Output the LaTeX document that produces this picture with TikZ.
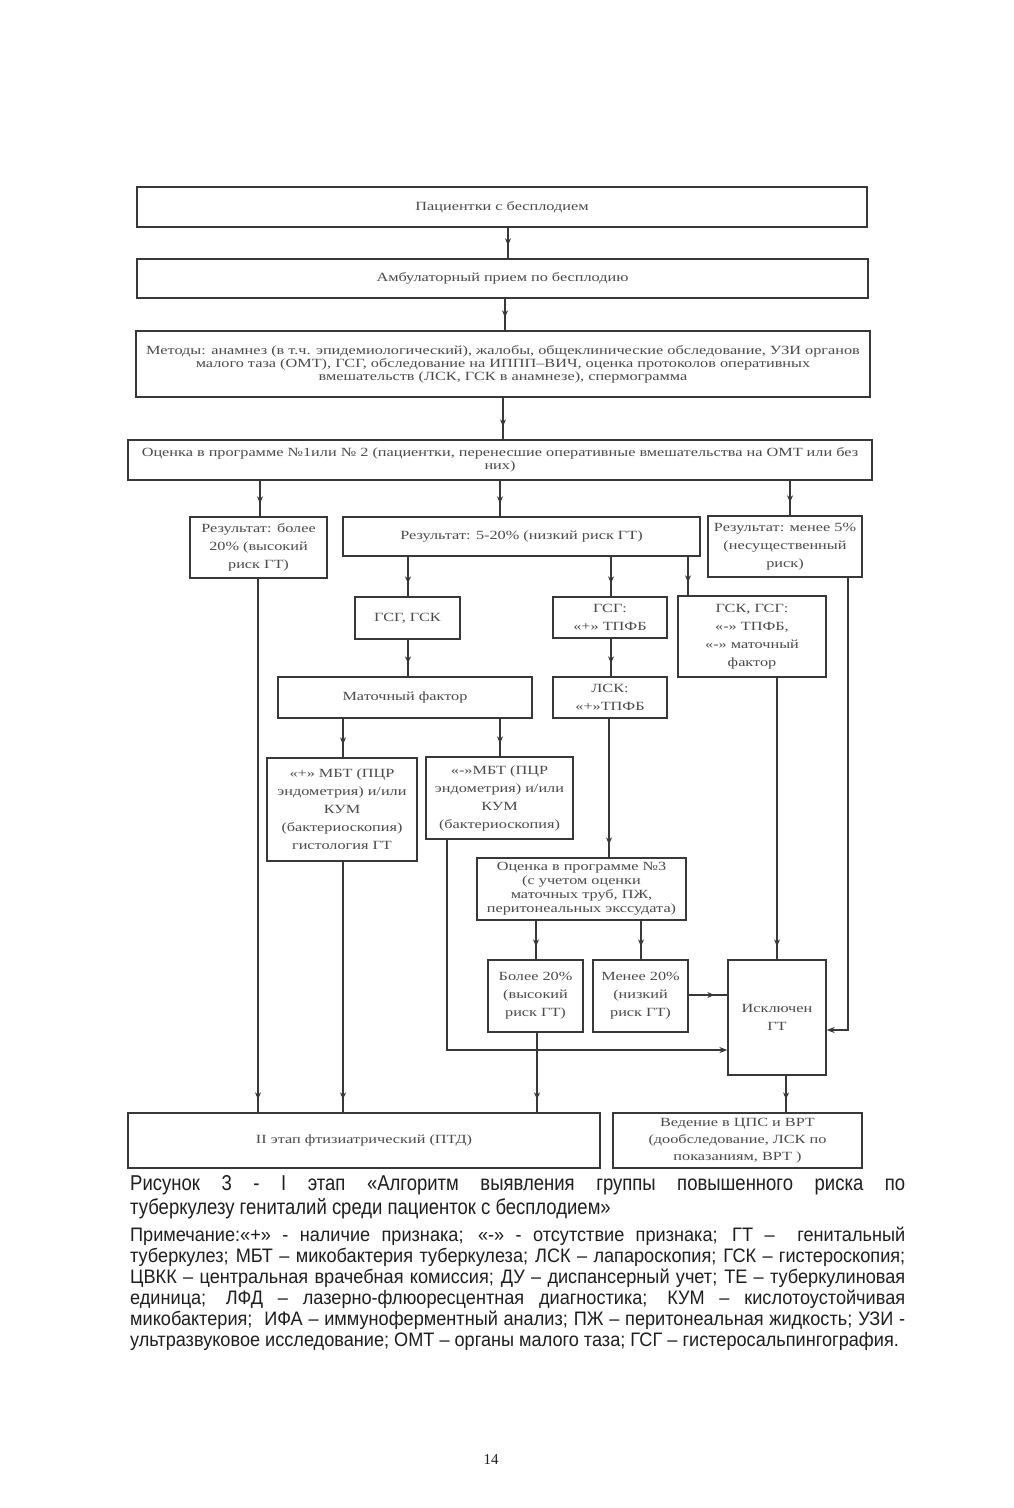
\documentclass[tikz,border=0pt]{standalone}
\usepackage{fontspec}
\setmainfont{Liberation Serif}
\newfontfamily\boxfont[FakeStretch=1.3]{Liberation Serif}
\newfontfamily\capfont[FakeStretch=0.86]{Liberation Sans}
\newfontfamily\notefont[FakeStretch=0.93]{Liberation Sans}
\usetikzlibrary{arrows.meta,decorations.markings}
\definecolor{linec}{HTML}{383838}
\definecolor{textc}{HTML}{4A4A4A}
\definecolor{capc}{HTML}{1E1E1E}
\tikzset{
  box/.style={draw=linec, line width=1.3pt, fill=white, inner sep=2pt, text=textc, align=center,
    font=\boxfont\fontsize{12.5}{18}\selectfont},
  widebox/.style={box, font=\boxfont\fontsize{12.5}{13}\selectfont},
  conn/.style={draw=linec, line width=1.3pt},
  flow/.style={conn, postaction={decorate}, decoration={markings,
    mark=at position -13pt with {\arrow{Stealth[length=7pt,width=6pt]}}}},
  endarrow/.style={conn, -{Stealth[length=8pt,width=6pt]}},
}
\begin{document}
\begin{tikzpicture}[x=1pt,y=-1pt]
\fill[white] (0,0) rectangle (1014,1508);
\useasboundingbox (0,0) rectangle (1014,1508);

% boxes
\node[box, minimum width=730pt, minimum height=40pt] (b1) at (502,207) {Пациентки с бесплодием};
\node[box, minimum width=731pt, minimum height=39pt] (b2) at (502.5,278.5) {Амбулаторный прием по бесплодию};
\node[widebox, minimum width=734pt, minimum height=66pt] (b3) at (503,364) {Методы: анамнез (в т.ч. эпидемиологический), жалобы, общеклинические обследование, УЗИ органов\\ малого таза (ОМТ), ГСГ, обследование на ИППП–ВИЧ, оценка протоколов оперативных\\ вмешательств (ЛСК, ГСК в анамнезе), спермограмма};
\node[widebox, minimum width=744pt, minimum height=40pt] (b4) at (500,460) {Оценка в программе №1или № 2 (пациентки, перенесшие оперативные вмешательства на ОМТ или без\\ них)};

\node[box, minimum width=137pt, minimum height=61pt] (b5) at (258.5,547.5) {Результат: более\\ 20\% (высокий\\ риск ГТ)};
\node[box, minimum width=357pt, minimum height=39pt] (b6) at (521.5,536.5) {Результат: 5-20\% (низкий риск ГТ)};
\node[box, minimum width=154pt, minimum height=61pt] (b7) at (785,546.5) {Результат: менее 5\%\\ (несущественный\\ риск)};

\node[box, minimum width=105pt, minimum height=42pt] (b8) at (407.5,618) {ГСГ, ГСК};
\node[box, minimum width=114pt, minimum height=41pt] (b9) at (610,617.5) {ГСГ:\\ «+» ТПФБ};
\node[box, minimum width=148pt, minimum height=81pt] (b10) at (752,636.5) {ГСК, ГСГ:\\ «-» ТПФБ,\\ «-» маточный\\ фактор};

\node[box, minimum width=254pt, minimum height=41pt] (b11) at (405,697.5) {Маточный фактор};
\node[box, minimum width=114pt, minimum height=41pt] (b12) at (610,697.5) {ЛСК:\\ «+»ТПФБ};

\node[box, minimum width=150pt, minimum height=103pt] (b13) at (342,809.5) {«+» МБТ (ПЦР\\ эндометрия) и/или\\ КУМ\\ (бактериоскопия)\\ гистология ГТ};
\node[box, minimum width=147pt, minimum height=82pt] (b14) at (499.5,798) {«-»МБТ (ПЦР\\ эндометрия) и/или\\ КУМ\\ (бактериоскопия)};

\node[box, minimum width=209pt, minimum height=62pt, font=\boxfont\fontsize{12.5}{14}\selectfont] (b15) at (581.5,889) {Оценка в программе №3\\ (с учетом оценки\\ маточных труб, ПЖ,\\ перитонеальных экссудата)};

\node[box, minimum width=95pt, minimum height=72pt] (b16) at (535.5,996) {Более 20\%\\ (высокий\\ риск ГТ)};
\node[box, minimum width=95pt, minimum height=72pt] (b17) at (640.5,996) {Менее 20\%\\ (низкий\\ риск ГТ)};
\node[box, minimum width=98pt, minimum height=115pt] (b18) at (777,1017.5) {Исключен\\ ГТ};

\node[box, minimum width=472pt, minimum height=55pt] (b19) at (364,1140.5) {II этап фтизиатрический (ПТД)};
\node[box, minimum width=249pt, minimum height=55pt, font=\boxfont\fontsize{12.5}{17}\selectfont] (b20) at (737.5,1140.5) {Ведение в ЦПС и ВРТ\\ (дообследование, ЛСК по\\ показаниям, ВРТ )};

% connectors
\draw[flow] (b1.south -| 508,0) -- (b2.north -| 508,0);
\draw[flow] (b2.south -| 505,0) -- (b3.north -| 505,0);
\draw[flow] (b3.south -| 503,0) -- (b4.north -| 503,0);
\draw[flow] (b4.south -| 260,0) -- (b5.north -| 260,0);
\draw[flow] (b4.south -| 500,0) -- (b6.north -| 500,0);
\draw[flow] (b4.south -| 790,0) -- (b7.north -| 790,0);
\draw[flow] (b6.south -| 408,0) -- (b8.north -| 408,0);
\draw[flow] (b6.south -| 611,0) -- (b9.north -| 611,0);
\draw[flow] (b6.south -| 688,0) -- (b10.north -| 688,0);
\draw[flow] (b8.south -| 408,0) -- (b11.north -| 408,0);
\draw[flow] (b9.south -| 611,0) -- (b12.north -| 611,0);
\draw[flow] (b11.south -| 343,0) -- (b13.north -| 343,0);
\draw[flow] (b11.south -| 500,0) -- (b14.north -| 500,0);
\draw[flow] (b12.south -| 609,0) -- (b15.north -| 609,0);
\draw[flow] (b15.south -| 536,0) -- (b16.north -| 536,0);
\draw[flow] (b15.south -| 641,0) -- (b17.north -| 641,0);
\draw[flow] (b10.south -| 777,0) -- (b18.north -| 777,0);
\draw[flow] (b17.east |- 0,995) -- (b18.west |- 0,995);
\draw[endarrow] (b7.south -| 848,0) |- (b18.east |- 0,1030);
\draw[endarrow] (b14.south -| 447,0) |- (b18.west |- 0,1050);
\draw[flow] (b5.south -| 258,0) -- (b19.north -| 258,0);
\draw[flow] (b13.south -| 343,0) -- (b19.north -| 343,0);
\draw[flow] (b16.south -| 537,0) -- (b19.north -| 537,0);
\draw[flow] (b18.south -| 786,0) -- (b20.north -| 786,0);

% caption
\node[anchor=north west, inner sep=0pt, text width=775pt, align=justify, text=capc,
  font=\capfont\fontsize{21.5}{24}\selectfont] (cap) at (130,1175)
  {Рисунок 3 - I этап «Алгоритм выявления группы повышенного риска по\linebreak
   туберкулезу гениталий среди пациенток с бесплодием»};
\node[anchor=north west, inner sep=0pt, text width=775pt, align=justify, text=capc,
  font=\notefont\fontsize{19.5}{21}\selectfont] (notes) at (130,1227)
  {Примечание:«+» - наличие признака; «-» - отсутствие признака; ГТ – \ генитальный\linebreak
   туберкулез; МБТ – микобактерия туберкулеза; ЛСК – лапароскопия; ГСК – гистероскопия;\linebreak
   ЦВКК – центральная врачебная комиссия; ДУ – диспансерный учет; ТЕ – туберкулиновая\linebreak
   единица; ЛФД – лазерно-флюоресцентная диагностика; КУМ – кислотоустойчивая\linebreak
   микобактерия; \ ИФА – иммуноферментный анализ; ПЖ – перитонеальная жидкость; УЗИ -\linebreak
   ультразвуковое исследование; ОМТ – органы малого таза; ГСГ – гистеросальпингография.};
\node[font=\fontsize{15}{18}\selectfont, text=capc] (pg) at (491,1460) {14};
\end{tikzpicture}
\end{document}
